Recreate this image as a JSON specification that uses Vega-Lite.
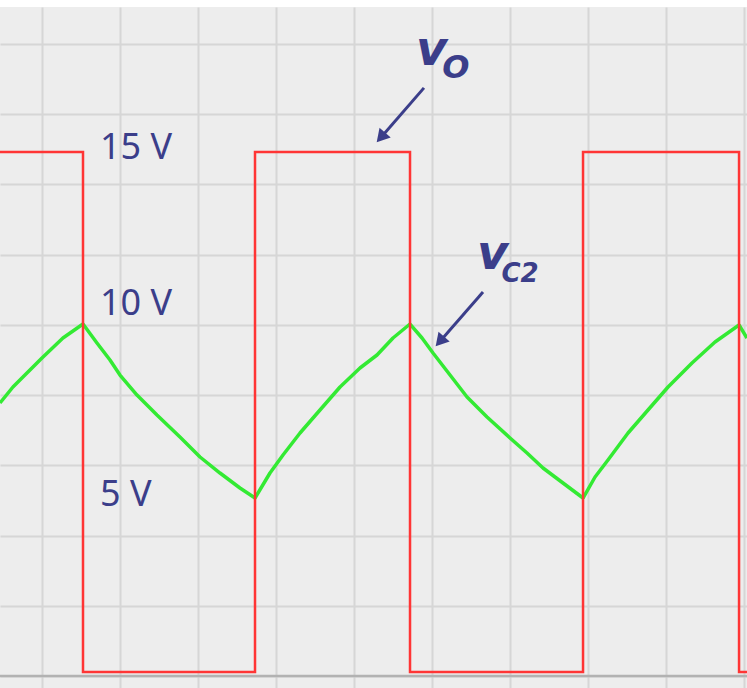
{
  "$schema": "https://vega.github.io/schema/vega-lite/v6.json",
  "width": 747,
  "height": 681,
  "autosize": {"type": "none"},
  "padding": {"top": 7, "left": 0, "right": 0, "bottom": 0},
  "background": "#ffffff",
  "config": {
    "view": {"stroke": null, "fill": "#ededed"},
    "axis": {"minExtent": 0, "maxExtent": 0, "labels": false, "ticks": false, "domain": false, "title": null, "grid": true, "gridColor": "#d6d6d6", "gridWidth": 2, "gridOpacity": 1}
  },
  "datasets": {
    "vo": [
      {"i": 0, "t": -0.538, "v": 15},
      {"i": 1, "t": 0.526, "v": 15},
      {"i": 2, "t": 0.526, "v": 0},
      {"i": 3, "t": 2.731, "v": 0},
      {"i": 4, "t": 2.731, "v": 15},
      {"i": 5, "t": 4.718, "v": 15},
      {"i": 6, "t": 4.718, "v": 0},
      {"i": 7, "t": 6.936, "v": 0},
      {"i": 8, "t": 6.936, "v": 15},
      {"i": 9, "t": 8.936, "v": 15},
      {"i": 10, "t": 8.936, "v": 0},
      {"i": 11, "t": 9.038, "v": 0}
    ],
    "vc2": [
      {"t": -0.538, "v": 7.76},
      {"t": -0.372, "v": 8.221},
      {"t": 0.0, "v": 9.058},
      {"t": 0.269, "v": 9.635},
      {"t": 0.526, "v": 10.038},
      {"t": 0.705, "v": 9.49},
      {"t": 0.872, "v": 9.0},
      {"t": 1.0, "v": 8.567},
      {"t": 1.218, "v": 7.99},
      {"t": 1.474, "v": 7.413},
      {"t": 1.769, "v": 6.779},
      {"t": 2.026, "v": 6.202},
      {"t": 2.282, "v": 5.74},
      {"t": 2.538, "v": 5.308},
      {"t": 2.731, "v": 5.019},
      {"t": 2.923, "v": 5.74},
      {"t": 3.09, "v": 6.26},
      {"t": 3.308, "v": 6.894},
      {"t": 3.564, "v": 7.558},
      {"t": 3.821, "v": 8.221},
      {"t": 4.077, "v": 8.769},
      {"t": 4.295, "v": 9.144},
      {"t": 4.5, "v": 9.635},
      {"t": 4.718, "v": 10.038},
      {"t": 4.872, "v": 9.635},
      {"t": 5.013, "v": 9.202},
      {"t": 5.231, "v": 8.567},
      {"t": 5.449, "v": 7.933},
      {"t": 5.705, "v": 7.356},
      {"t": 6.0, "v": 6.75},
      {"t": 6.218, "v": 6.317},
      {"t": 6.423, "v": 5.885},
      {"t": 6.679, "v": 5.452},
      {"t": 6.936, "v": 5.019},
      {"t": 7.09, "v": 5.625},
      {"t": 7.256, "v": 6.115},
      {"t": 7.513, "v": 6.894},
      {"t": 7.769, "v": 7.558},
      {"t": 8.026, "v": 8.221},
      {"t": 8.333, "v": 8.913},
      {"t": 8.628, "v": 9.519},
      {"t": 8.936, "v": 10.01},
      {"t": 9.038, "v": 9.635}
    ],
    "levels": [
      {"t": 0.744, "v": 14.8, "label": "15 V"},
      {"t": 0.744, "v": 10.3, "label": "10 V"},
      {"t": 0.744, "v": 4.79, "label": "5 V"}
    ],
    "names": [
      {"t": 4.795, "v": 17.51, "label": "v"},
      {"t": 5.577, "v": 11.625, "label": "v"}
    ],
    "subO": [
      {"t": 5.13, "v": 17.135, "label": "O"}
    ],
    "subC2": [
      {"t": 5.89, "v": 11.25, "label": "C2"}
    ],
    "arrows": [
      {"t": 4.897, "v": 16.85, "t2": 4.345, "v2": 15.42},
      {"t": 5.654, "v": 10.96, "t2": 5.101, "v2": 9.536}
    ]
  },
  "encoding": {
    "x": {"field": "t", "type": "quantitative", "scale": {"domain": [-0.538, 9.038], "nice": false, "zero": false}, "axis": {"values": [0, 1, 2, 3, 4, 5, 6, 7, 8, 9]}},
    "y": {"field": "v", "type": "quantitative", "scale": {"domain": [-0.4615, 19.183], "nice": false, "zero": false}, "axis": {"values": [18.115, 16.089, 14.064, 12.038, 10.013, 7.987, 5.961, 3.936, 1.91, -0.115]}}
  },
  "layer": [
    {
      "data": {"values": [{"v": -0.115}]},
      "mark": {"type": "rule", "color": "#b2b2b2", "strokeWidth": 2.5},
      "encoding": {"x": null}
    },
    {
      "data": {"name": "vc2"},
      "mark": {"type": "line", "color": "#33ea33", "strokeWidth": 3.5, "strokeJoin": "round"}
    },
    {
      "data": {"name": "vo"},
      "mark": {"type": "line", "color": "#ff3535", "strokeWidth": 2.5, "strokeJoin": "miter"},
      "encoding": {"order": {"field": "i", "type": "quantitative"}}
    },
    {
      "data": {"name": "levels"},
      "mark": {"type": "text", "font": "Noto Sans", "fontSize": 36, "color": "#3b3e8a", "align": "left", "baseline": "alphabetic"},
      "encoding": {"text": {"field": "label"}}
    },
    {
      "data": {"name": "names"},
      "mark": {"type": "text", "font": "DejaVu Sans", "fontSize": 48, "fontStyle": "italic", "fontWeight": "bold", "color": "#3b3e8a", "align": "left", "baseline": "alphabetic"},
      "encoding": {"text": {"field": "label"}}
    },
    {
      "data": {"name": "subO"},
      "mark": {"type": "text", "font": "DejaVu Sans", "fontSize": 32, "fontStyle": "italic", "fontWeight": "bold", "color": "#3b3e8a", "align": "left", "baseline": "alphabetic"},
      "encoding": {"text": {"field": "label"}}
    },
    {
      "data": {"name": "subC2"},
      "mark": {"type": "text", "font": "DejaVu Sans", "fontSize": 26, "fontStyle": "italic", "fontWeight": "bold", "color": "#3b3e8a", "align": "left", "baseline": "alphabetic"},
      "encoding": {"text": {"field": "label"}}
    },
    {
      "data": {"name": "arrows"},
      "mark": {"type": "rule", "color": "#3b3e8a", "strokeWidth": 3},
      "encoding": {
        "x2": {"field": "t2"},
        "y2": {"field": "v2"}
      }
    },
    {
      "data": {"name": "arrows"},
      "mark": {"type": "point", "shape": "triangle-up", "filled": true, "color": "#3b3e8a", "opacity": 1, "size": 220, "angle": 221},
      "encoding": {
        "x": {"field": "t2", "type": "quantitative"},
        "y": {"field": "v2", "type": "quantitative"}
      }
    }
  ]
}
